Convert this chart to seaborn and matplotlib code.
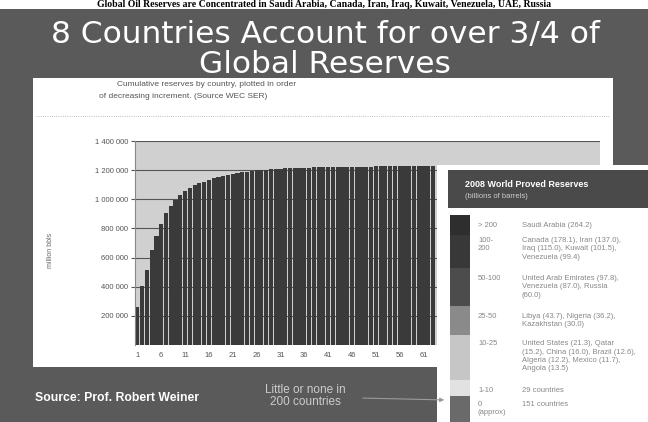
import numpy as np
import pandas as pd
import matplotlib
matplotlib.use("Agg")
import matplotlib.pyplot as plt
from matplotlib.patches import Rectangle, FancyArrowPatch
from matplotlib.lines import Line2D
import seaborn as sns

W, H = 648, 422

# cumulative reserves by country (million bbls)
rank = list(range(1, 64))
cumulative = [262000, 405000, 515000, 650000, 745000, 830000, 905000, 955000,
              995000, 1030000, 1055000, 1078000, 1096000, 1110000, 1122000,
              1135000, 1145000, 1153000, 1161000, 1168000, 1174000, 1180000,
              1185000, 1190000, 1194000, 1198000, 1201000, 1204000, 1207000,
              1209000, 1211000, 1213000, 1214000, 1215000, 1216000, 1217000,
              1218000, 1219000, 1220000, 1220500, 1221000, 1221500, 1222000,
              1222500, 1223000, 1223500, 1224000, 1224300, 1224600, 1225000,
              1225300, 1225600, 1226000, 1226300, 1226600, 1227000, 1227200,
              1227400, 1227600, 1227800, 1228000, 1228100, 1228200]
ytick_vals = [200000, 400000, 600000, 800000, 1000000, 1200000, 1400000]
ytick_labels = ["200 000", "400 000", "600 000", "800 000", "1 000 000",
                "1 200 000", "1 400 000"]
xtick_labels = ["1", "6", "11", "16", "21", "26", "31", "36", "41", "46",
                "51", "56", "61"]

legend_ranges = ["> 200", "100-\n200", "50-100", "25-50", "10-25", "1-10",
                 "0\n(approx)"]
legend_countries = ["Saudi Arabia (264.2)",
                    "Canada (178.1), Iran (137.0),\nIraq (115.0), Kuwait (101.5),\nVenezuela (99.4)",
                    "United Arab Emirates (97.8),\nVenezuela (87.0), Russia\n(60.0)",
                    "Libya (43.7), Nigeria (36.2),\nKazakhstan (30.0)",
                    "United States (21.3), Qatar\n(15.2), China (16.0), Brazil (12.6),\nAlgeria (12.2), Mexico (11.7),\nAngola (13.5)",
                    "29 countries",
                    "151 countries"]
legend_shades = ["#2e2e2e", "#383838", "#4c4c4c", "#8a8a8a", "#c6c6c6",
                 "#e2e2e2", "#6a6a6a"]

sns.set_theme(style="white")
plt.rcParams['font.family'] = ['Liberation Sans', 'DejaVu Sans']

fig = plt.figure(figsize=(6.48, 4.22), dpi=100)
fig.patch.set_facecolor('#5a5a5a')


def box(x0, y0, x1, y1, color, z=-1):
    fig.add_artist(Rectangle((x0 / W, 1 - y1 / H), (x1 - x0) / W, (y1 - y0) / H,
                             transform=fig.transFigure, facecolor=color,
                             edgecolor='none', zorder=z))


def txt(x, y, s, **kw):
    return fig.text(x / W, 1 - y / H, s, **kw)


# top strip with heading
box(0, 0, W, 9, 'white')
txt(324, 4.5, "Global Oil Reserves are Concentrated in Saudi Arabia, Canada, Iran, Iraq, Kuwait, Venezuela, UAE, Russia",
    fontsize=7, fontweight='bold', family='Liberation Serif', color='black',
    ha='center', va='center')

# slide title
txt(325, 43, "8 Countries Account for over 3/4 of", fontsize=22.5, color='white',
    family='DejaVu Sans', ha='center', va='baseline')
txt(325, 73, "Global Reserves", fontsize=22.5, color='white', family='DejaVu Sans',
    ha='center', va='baseline')

# white chart panel
box(33, 78, 613, 367, 'white')
txt(117, 85, "Cumulative reserves by country, plotted in order", fontsize=6,
    color='#555555', va='center')
txt(99, 96, "of decreasing increment. (Source WEC SER)", fontsize=6,
    color='#555555', va='center')
fig.add_artist(Line2D([36 / W, 610 / W], [1 - 116 / H, 1 - 116 / H], transform=fig.transFigure,
                      color='#aaaaaa', lw=0.6, ls=':', zorder=-1))

ax = fig.add_axes([135 / W, 1 - 345 / H, 465 / W, 204 / H])
ax.set_facecolor('#d0d0d0')
df = pd.DataFrame({'rank': rank, 'reserves': cumulative})
sns.barplot(data=df, x='rank', y='reserves', color='#3a3a3a', saturation=1,
            width=0.86, linewidth=0, ax=ax)
ax.set_xlim(-0.5, 97)
ax.set_ylim(0, 1400000)
ax.set_yticks(ytick_vals)
ax.set_yticklabels(ytick_labels)
ax.set_xticks(range(0, 61, 5))
ax.set_xticklabels(xtick_labels)
ax.grid(axis='y', color='#555555', lw=0.8)
ax.set_axisbelow(True)
ax.tick_params(axis='x', length=0, labelsize=5.5, labelcolor='#555555', pad=5)
ax.tick_params(axis='y', left=True, length=3, width=0.8, color='#555555',
               labelsize=5.5, labelcolor='#555555', pad=2)
ax.set_xlabel('')
ax.set_ylabel('')
for s in ['top', 'right', 'bottom']:
    ax.spines[s].set_visible(False)
ax.spines['left'].set_color('#888888')
ax.spines['left'].set_linewidth(0.8)
txt(50, 250, "million bbls", fontsize=5, color='#666666', rotation=90,
    ha='center', va='center')

# legend panel on the right
box(437, 165, W, H, 'white', z=5)
box(448, 170, W, 208, '#4a4a4a', z=6)
txt(465, 184, "2008 World Proved Reserves", fontsize=6.5, fontweight='bold',
    color='white', va='center', zorder=7)
txt(465, 197, "(billions of barrels)", fontsize=5.5, color='#cccccc',
    va='center', zorder=7)
row_edges = [215, 235, 268, 306, 335, 380, 396, 422]
row_text_y = [222, 237, 275, 313, 340, 387, 401]
for i in range(len(legend_ranges)):
    box(450, row_edges[i], 470, row_edges[i + 1], legend_shades[i], z=6)
    txt(478, row_text_y[i], legend_ranges[i], fontsize=5.5, color='#888888',
        va='top', linespacing=1.3, zorder=7)
    txt(522, row_text_y[i], legend_countries[i], fontsize=5.5, color='#888888',
        va='top', linespacing=1.3, zorder=7)

# bottom band notes
txt(35, 398, "Source: Prof. Robert Weiner", fontsize=8.8, fontweight='bold',
    color='white', va='center')
txt(305, 396, "Little or none in\n200 countries", fontsize=8.5, color='#cccccc',
    ha='center', va='center', linespacing=1.1)
fig.add_artist(FancyArrowPatch((360 / W, 1 - 398 / H), (447 / W, 1 - 400 / H),
                               transform=fig.transFigure, arrowstyle='-|>',
                               mutation_scale=6, color='#9a9a9a', lw=0.8, zorder=8))

fig.savefig('out.png', dpi=100, facecolor=fig.get_facecolor())
